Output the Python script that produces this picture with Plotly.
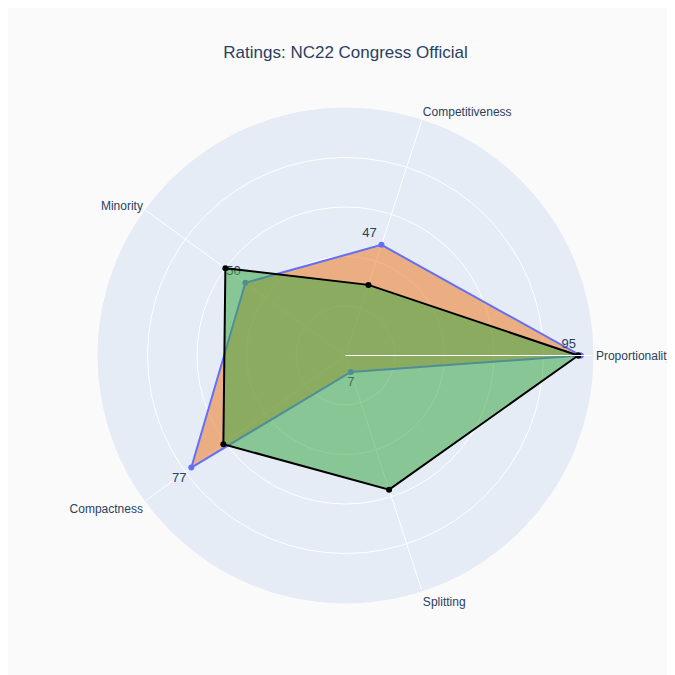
import plotly.graph_objects as go

categories = ["Proportionality", "Competitiveness", "Minority", "Compactness", "Splitting"]
official = [95, 47, 50, 77, 7]
comparison = [94, 30, 60, 61, 57]

def closed(vals):
    return vals + vals[:1]

fig = go.Figure()

fig.add_trace(go.Scatterpolar(
    r=closed(official), theta=closed(categories),
    fill="toself", fillcolor="rgba(239,133,54,0.6)",
    mode="lines+markers+text",
    text=[str(v) for v in official] + [""],
    textposition=["top left", "top left", "top left", "bottom left", "bottom center", "top left"],
    textfont=dict(size=13, color="#2a3f5f"),
    line=dict(color="#636efa", width=2),
    marker=dict(color="#636efa", size=6),
    showlegend=False,
))

fig.add_trace(go.Scatterpolar(
    r=closed(comparison), theta=closed(categories),
    fill="toself", fillcolor="rgba(60,170,70,0.55)",
    mode="lines+markers",
    line=dict(color="black", width=2),
    marker=dict(color="black", size=6),
    showlegend=False,
))

fig.update_layout(
    width=675, height=675,
    title=dict(text="Ratings: NC22 Congress Official", x=0.5, xanchor="center",
               font=dict(size=17, color="#2a3f5f")),
    paper_bgcolor="#fafafa",
    font=dict(family="Arial, Liberation Sans, sans-serif", size=12, color="#2a3f5f"),
    polar=dict(
        bgcolor="#E5ECF6",
        radialaxis=dict(range=[0, 100], showticklabels=False, ticks="",
                        gridcolor="white", linecolor="white", dtick=20),
        angularaxis=dict(rotation=0, direction="counterclockwise",
                         gridcolor="white", linecolor="#E5ECF6", ticks=""),
    ),
    margin=dict(l=80, r=80, t=100, b=80),
)

fig.write_html("out.html")
